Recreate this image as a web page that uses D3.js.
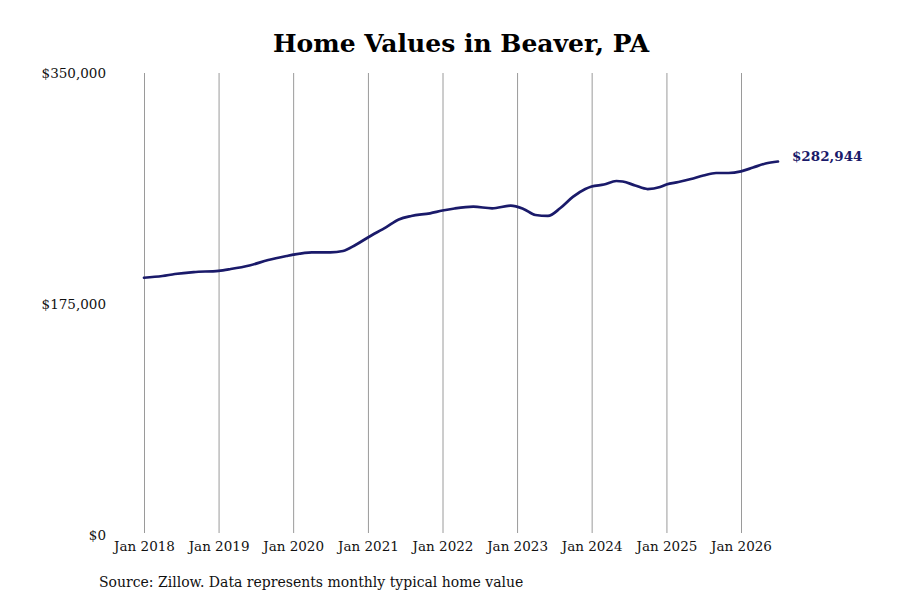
<!DOCTYPE html>
<html>
<head>
<meta charset="utf-8">
<script src="https://cdn.jsdelivr.net/npm/d3@7"></script>
<style>
  body { margin: 0; background: #fff; }
  text { font-family: "DejaVu Serif", serif; }
</style>
</head>
<body>
<div id="chart"></div>
<script>
// values (month, typical home value)
const months = [
    "2018-01", "2018-04", "2018-06", "2018-09", "2019-01", "2019-03", "2019-06",
    "2019-09", "2019-12", "2020-01", "2020-04", "2020-07", "2020-09", "2020-11",
    "2021-01", "2021-04", "2021-06", "2021-08", "2021-11", "2022-01", "2022-03",
    "2022-06", "2022-09", "2022-12", "2023-02", "2023-04", "2023-06", "2023-08",
    "2023-10", "2023-12", "2024-01", "2024-03", "2024-05", "2024-06", "2024-08",
    "2024-10", "2024-12", "2025-01", "2025-03", "2025-05", "2025-07", "2025-09",
    "2025-11", "2026-01", "2026-03", "2026-05", "2026-07"
];
const values = [
    194900, 196200, 197700, 199200, 200150, 201500, 204200,
    208300, 211400, 212350, 214150, 214150, 215150, 219700,
    225400, 233300, 239000, 241700, 243700, 245800, 247350,
    248700, 247500, 249500, 247000, 242400, 241700, 247700,
    256100, 262100, 264000, 265500, 268200, 267800, 264800,
    262100, 263600, 265500, 267400, 269700, 272350, 274250,
    274250, 275500, 278400, 281400, 282944
];
const yTicks = [0, 175000, 350000];
const tickYears = [2018, 2019, 2020, 2021, 2022, 2023, 2024, 2025, 2026];

const width = 900, height = 600;
const lineColor = "#1a1a6a";

const parse = d3.timeParse("%Y-%m");
const data = months.map((m, i) => ({ date: parse(m), value: values[i] }));

const svg = d3.select("#chart")
    .append("svg")
    .attr("width", width)
    .attr("height", height);

const x = d3.scaleTime()
    .domain([new Date(2018, 0, 1), new Date(2026, 0, 1)])
    .range([144, 741]);

const y = d3.scaleLinear()
    .domain([0, 350000])
    .range([535, 73]);

// vertical gridlines at each January
const xAxis = svg.append("g")
    .attr("transform", "translate(0,533)")
    .call(d3.axisBottom(x)
        .tickValues(tickYears.map(yr => new Date(yr, 0, 1)))
        .tickSize(-460)
        .tickPadding(8)
        .tickFormat(d3.timeFormat("Jan %Y")));
xAxis.select(".domain").remove();
xAxis.selectAll("line").attr("stroke", "#9a9a9a").attr("stroke-width", 1);
xAxis.selectAll("text")
    .attr("fill", "#111")
    .style("font-family", "DejaVu Serif")
    .style("font-size", "13.5px");

const yAxis = svg.append("g")
    .attr("transform", "translate(106,0)")
    .call(d3.axisLeft(y)
        .tickValues(yTicks)
        .tickSize(0)
        .tickPadding(0)
        .tickFormat(d => "$" + d3.format(",")(d)));
yAxis.select(".domain").remove();
yAxis.selectAll("text")
    .attr("fill", "#111")
    .style("font-family", "DejaVu Serif")
    .style("font-size", "13.5px");

const line = d3.line()
    .curve(d3.curveMonotoneX)
    .x(d => x(d.date))
    .y(d => y(d.value));

svg.append("path")
    .datum(data)
    .attr("fill", "none")
    .attr("stroke", lineColor)
    .attr("stroke-width", 2.7)
    .attr("stroke-linejoin", "round")
    .attr("stroke-linecap", "round")
    .attr("d", line);

const last = data[data.length - 1];
svg.append("text")
    .attr("x", x(last.date) + 14)
    .attr("y", y(last.value) - 5)
    .attr("dy", "0.35em")
    .attr("fill", lineColor)
    .style("font-size", "13.5px")
    .style("font-weight", "bold")
    .text("$" + d3.format(",")(last.value));

svg.append("text")
    .attr("x", 461)
    .attr("y", 52)
    .attr("text-anchor", "middle")
    .attr("fill", "#000")
    .style("font-size", "25px")
    .style("font-weight", "bold")
    .text("Home Values in Beaver, PA");

svg.append("text")
    .attr("x", 99)
    .attr("y", 587)
    .attr("fill", "#111")
    .style("font-size", "14px")
    .text("Source: Zillow. Data represents monthly typical home value");
</script>
</body>
</html>
